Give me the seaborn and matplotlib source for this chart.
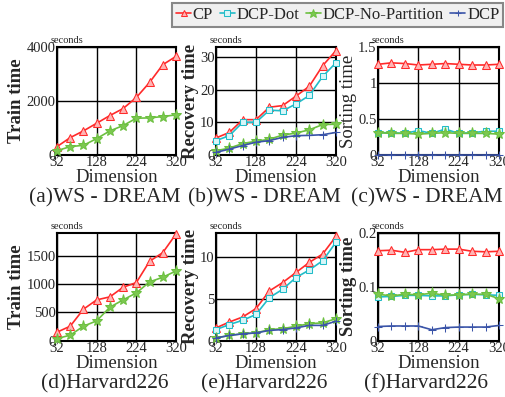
import seaborn as sns
import matplotlib.pyplot as plt
from matplotlib.ticker import FixedLocator

dims = [32, 64, 96, 128, 160, 192, 224, 256, 288, 320]

# (a) WS-DREAM train time
a_cp = [310, 644, 892, 1176, 1461, 1721, 2130, 2687, 3344, 3653]
a_nopart = [161, 310, 359, 607, 892, 1090, 1362, 1375, 1424, 1486]

# (b) WS-DREAM recovery time
b_cp = [5.2, 6.9, 10.8, 10.8, 14.6, 15.1, 18.0, 21.0, 27.3, 31.9]
b_dot = [4.4, 5.9, 10.0, 10.0, 13.7, 13.5, 15.6, 18.2, 24.0, 28.2]
b_nopart = [1.3, 2.1, 3.5, 4.2, 4.8, 6.1, 6.7, 7.7, 9.3, 9.4]
b_dcp = [0.8, 1.8, 2.9, 3.9, 4.4, 5.4, 5.9, 6.0, 6.2, 6.9]

# (c) WS-DREAM sorting time
c_cp = [1.26, 1.28, 1.27, 1.25, 1.26, 1.27, 1.26, 1.25, 1.25, 1.26]
c_dot = [0.31, 0.31, 0.30, 0.34, 0.30, 0.36, 0.30, 0.31, 0.33, 0.33]
c_nopart = [0.31, 0.30, 0.30, 0.29, 0.30, 0.31, 0.30, 0.30, 0.30, 0.29]
c_dcp = [0.003] * 10

# (d) Harvard226 train time
d_cp = [147, 253, 553, 718, 771, 941, 1024, 1400, 1553, 1882]
d_nopart = [35, 94, 253, 347, 588, 718, 841, 1035, 1118, 1229]

# (e) Harvard226 recovery time
e_cp = [1.5, 2.2, 2.8, 3.8, 5.9, 6.9, 8.1, 9.3, 10.3, 12.4]
e_dot = [1.3, 1.9, 2.4, 3.1, 5.1, 6.1, 7.5, 8.4, 9.5, 11.7]
e_nopart = [0.3, 0.6, 0.8, 0.9, 1.3, 1.4, 1.7, 2.0, 2.1, 2.6]
e_dcp = [0.3, 0.6, 0.8, 0.9, 1.2, 1.3, 1.5, 1.8, 1.8, 2.3]

# (f) Harvard226 sorting time
f_cp = [0.167, 0.168, 0.164, 0.169, 0.169, 0.170, 0.170, 0.166, 0.165, 0.166]
f_dot = [0.081, 0.082, 0.084, 0.084, 0.083, 0.083, 0.085, 0.086, 0.085, 0.084]
f_nopart = [0.086, 0.083, 0.086, 0.085, 0.088, 0.084, 0.085, 0.086, 0.086, 0.078]
f_dcp = [0.026, 0.027, 0.027, 0.027, 0.020, 0.024, 0.025, 0.025, 0.025, 0.028]

styles = {
    "CP": dict(color="#ff2a2a", marker="^", markersize=6,
               markerfacecolor="#ffb4b4", markeredgecolor="#ff2a2a"),
    "DCP-Dot": dict(color="#22bcc8", marker="s", markersize=5,
                    markerfacecolor="#d8f6f8", markeredgecolor="#22bcc8"),
    "DCP-No-Partition": dict(color="#6cc040", marker="*", markersize=8,
                             markerfacecolor="#7cc850", markeredgecolor="#6cc040"),
    "DCP": dict(color="#3a54a8", marker="+", markersize=6,
                markeredgecolor="#3a54a8"),
}

panels = [
    ("(a)WS - DREAM", "Train time", True, [0, 2000, 4000], ["0", "2000", "4000"], 4000,
     {"CP": a_cp, "DCP-No-Partition": a_nopart}),
    ("(b)WS - DREAM", "Recovery time", True, [0, 10, 20, 30], ["0", "10", "20", "30"], 33,
     {"CP": b_cp, "DCP-Dot": b_dot, "DCP-No-Partition": b_nopart, "DCP": b_dcp}),
    ("(c)WS - DREAM", "Sorting time", False, [0, 0.5, 1, 1.5], ["0", "0.5", "1", "1.5"], 1.5,
     {"CP": c_cp, "DCP-Dot": c_dot, "DCP-No-Partition": c_nopart, "DCP": c_dcp}),
    ("(d)Harvard226", "Train time", True, [0, 500, 1000, 1500], ["0", "500", "1000", "1500"], 1900,
     {"CP": d_cp, "DCP-No-Partition": d_nopart}),
    ("(e)Harvard226", "Recovery time", True, [0, 5, 10], ["0", "5", "10"], 12.8,
     {"CP": e_cp, "DCP-Dot": e_dot, "DCP-No-Partition": e_nopart, "DCP": e_dcp}),
    ("(f)Harvard226", "Sorting time", True, [0, 0.1, 0.2], ["0", "0.1", "0.2"], 0.2,
     {"CP": f_cp, "DCP-Dot": f_dot, "DCP-No-Partition": f_nopart, "DCP": f_dcp}),
]

sns.set_style("ticks")
plt.rcParams["font.family"] = ["Liberation Serif", "DejaVu Serif"]

fig = plt.figure(figsize=(5.06, 3.97), dpi=100)
W, H = 506, 397
lefts = [57, 216, 378]
widths = [119, 120, 121]
rows = [(47, 155), (233, 340.5)]

handles = {}
for i, (cap, ylab, bold, yt, ytl, ymax, series) in enumerate(panels):
    r, c = divmod(i, 3)
    top, bot = rows[r]
    ax = fig.add_axes([lefts[c] / W, 1 - bot / H, widths[c] / W, (bot - top) / H])
    for name, vals in series.items():
        sns.lineplot(x=dims, y=vals, ax=ax, linewidth=1.2, label=name,
                     clip_on=False, zorder=5, **styles[name])
    for ln in ax.lines:
        handles.setdefault(ln.get_label(), ln)
    if ax.get_legend():
        ax.get_legend().remove()
    ax.set_xlim(32, 320)
    ax.set_ylim(0, ymax)
    ax.xaxis.set_major_locator(FixedLocator([32, 128, 224, 320]))
    ax.set_xticklabels(["32", "128", "224", "320"])
    ax.set_yticks(yt)
    ax.set_yticklabels(ytl)
    ax.tick_params(length=0, pad=1, labelsize=10.5)
    ax.grid(True, color="black", linewidth=1)
    for s in ax.spines.values():
        s.set_linewidth(1.5)
        s.set_color("black")
        s.set_zorder(4)
    ax.set_xlabel("Dimension", fontsize=13.5, labelpad=0)
    ax.set_ylabel(ylab, fontsize=13.5, fontweight="bold" if bold else "normal", labelpad=1)
    ax.text(-0.05, 1.02, "seconds", transform=ax.transAxes, fontsize=7.5, va="bottom")
    ax.text(0.4, -0.4, cap, transform=ax.transAxes, fontsize=15.5,
            ha="center", va="center")

order = ["CP", "DCP-Dot", "DCP-No-Partition", "DCP"]
leg = fig.legend([handles[k] for k in order], order, loc="upper right",
                 bbox_to_anchor=(0.995, 0.993), ncol=4, fontsize=12,
                 handlelength=0.9, handletextpad=0.1, columnspacing=0.4,
                 markerscale=0.8, borderpad=0.25, borderaxespad=0, fancybox=False,
                 edgecolor="#888888", facecolor="#f0f0f0", framealpha=1)
leg.get_frame().set_linewidth(1.5)

fig.savefig("out.png", dpi=100)
